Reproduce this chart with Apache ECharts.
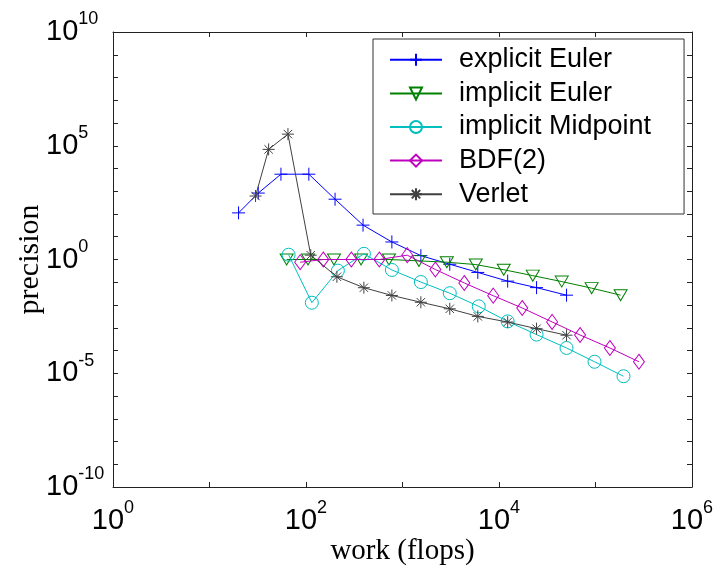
<!DOCTYPE html>
<html><head><meta charset="utf-8">
<script src="https://cdn.jsdelivr.net/npm/echarts@6/dist/echarts.min.js"></script>
<style>html,body{margin:0;padding:0;background:#fff}#c{width:728px;height:569px}</style>
</head><body><div id="c"></div>
<script>
// ---- data (log-log) ----
const xTickExponents = [0, 2, 4, 6];
const yTickExponents = [-10, -5, 0, 5, 10];
const seriesNames = ['explicit Euler', 'implicit Euler', 'implicit Midpoint', 'BDF(2)', 'Verlet'];

const explicitEulerX = [20, 32, 55, 107, 200, 390, 776, 1550, 3090, 6030, 12300, 24500, 50100];
const explicitEulerY = [112, 832, 5620, 5620, 447, 32.4, 5.9, 1.48, 0.62, 0.27, 0.112, 0.058, 0.027];

const implicitEulerX = [63, 105, 195, 372, 724, 1480, 2880, 5750, 11200, 22400, 44700, 91200, 182000];
const implicitEulerY = [1, 1, 1, 1, 1, 0.87, 0.76, 0.6, 0.355, 0.195, 0.107, 0.055, 0.027];

const midpointX = [66, 115, 214, 398, 776, 1550, 3090, 6170, 12300, 24500, 50100, 97700, 195000];
const midpointY = [1.62, 0.0126, 0.324, 1.78, 0.347, 0.102, 0.033, 0.0087, 0.0019, 0.0005, 0.000129, 0.000032, 0.0000074];

const bdf2X = [87, 151, 295, 575, 1120, 2190, 4370, 8710, 17400, 35500, 69200, 141000, 282000];
const bdf2Y = [0.76, 1, 1, 1, 1.55, 0.363, 0.093, 0.0257, 0.0074, 0.0018, 0.00048, 0.000129, 0.000032];

const verletX = [30, 41, 65, 112, 209, 398, 776, 1550, 3090, 6030, 12300, 24500, 50100];
const verletY = [617, 69200, 324000, 1.55, 0.174, 0.0575, 0.0263, 0.0132, 0.0068, 0.00316, 0.00178, 0.00091, 0.00047];

// ---- styling ----
const colors = ['#0000ff', '#008000', '#00bfbf', '#bf00bf', '#404040'];
const symbols = [
  'path://M5,0L5,10M0,5L10,5',
  'path://M0,0L10,0L5,8.7Z',
  'circle',
  'path://M5,0L10,7L5,14L0,7Z',
  'path://M5,0L5,10M0,5L10,5M1.5,1.5L8.5,8.5M8.5,1.5L1.5,8.5'
];
const symbolSizes = [13, [13, 11], 13, [11, 15], 12];
const sans = "'Liberation Sans', Arial, Helvetica, sans-serif";
const serif = "'Liberation Serif', 'Times New Roman', serif";

const pairs = (xs, ys) => xs.map((x, i) => [x, ys[i]]);
const allData = [
  pairs(explicitEulerX, explicitEulerY),
  pairs(implicitEulerX, implicitEulerY),
  pairs(midpointX, midpointY),
  pairs(bdf2X, bdf2Y),
  pairs(verletX, verletY)
];

const rich = {
  b: { fontSize: 29, lineHeight: 43, fontFamily: sans, color: '#000' },
  s: { fontSize: 18, lineHeight: 18, fontFamily: sans, color: '#000', verticalAlign: 'top' }
};
function expLabel(list) {
  return function (v) {
    const e = Math.round(Math.log10(v));
    if (list.indexOf(e) < 0) return '';
    return '{b|10}{s|' + e + '}';
  };
}
const lineCol = '#222';
const tickStyle = { show: true, inside: true, length: 5, lineStyle: { color: lineCol, width: 1 } };

const xBase = { type: 'log', logBase: 10, min: 1, max: 1e6, interval: 1, splitLine: { show: false },
  axisLine: { show: true, lineStyle: { color: lineCol, width: 1 } }, axisTick: tickStyle };
const yBase = { type: 'log', logBase: 10, min: 1e-10, max: 1e10, interval: 1, splitLine: { show: false },
  axisLine: { show: true, lineStyle: { color: lineCol, width: 1 } }, axisTick: tickStyle };

const option = {
  animation: false,
  backgroundColor: '#fff',
  grid: { left: 113, top: 32, width: 579, height: 455, containLabel: false, outerBoundsMode: 'none' },
  xAxis: [
    Object.assign({}, xBase, {
      position: 'bottom',
      name: 'work (flops)', nameLocation: 'middle', nameGap: 50, nameMoveOverlap: false,
      nameTextStyle: { fontFamily: serif, fontSize: 29, color: '#000' },
      axisLabel: { show: true, margin: 12, formatter: expLabel(xTickExponents), rich: rich,
        showMinLabel: true, showMaxLabel: true, hideOverlap: false }
    }),
    Object.assign({}, xBase, { position: 'top', axisLabel: { show: false } })
  ],
  yAxis: [
    Object.assign({}, yBase, {
      position: 'left',
      name: 'precision', nameLocation: 'middle', nameGap: 68, nameRotate: 90, nameMoveOverlap: false,
      nameTextStyle: { fontFamily: serif, fontSize: 30, color: '#000' },
      axisLabel: { show: true, margin: 67, align: 'left', formatter: expLabel(yTickExponents), rich: rich,
        showMinLabel: true, showMaxLabel: true, hideOverlap: false }
    }),
    Object.assign({}, yBase, { position: 'right', axisLabel: { show: false } })
  ],
  legend: {
    show: true, orient: 'vertical', left: 373, top: 39,
    padding: [4, 33, 3, 16],
    itemGap: 0, itemWidth: 52, itemHeight: 15,
    backgroundColor: '#fff', borderColor: '#333', borderWidth: 1,
    textStyle: { fontFamily: sans, fontSize: 27, color: '#000', lineHeight: 33.6, padding: [0, 0, 0, 12] },
    data: seriesNames
  },
  series: seriesNames.map((name, i) => ({
    name: name,
    type: 'line',
    xAxisIndex: 0, yAxisIndex: 0,
    data: allData[i],
    symbol: symbols[i],
    symbolSize: symbolSizes[i],
    showAllSymbol: true,
    lineStyle: { color: colors[i], width: 1 },
    itemStyle: { color: 'none', borderColor: colors[i], borderWidth: 1 },
    emphasis: { disabled: true },
    z: 2 + i
  }))
};

const chart = echarts.init(document.getElementById('c'), null, { renderer: 'canvas' });
chart.setOption(option);
</script>
</body></html>
